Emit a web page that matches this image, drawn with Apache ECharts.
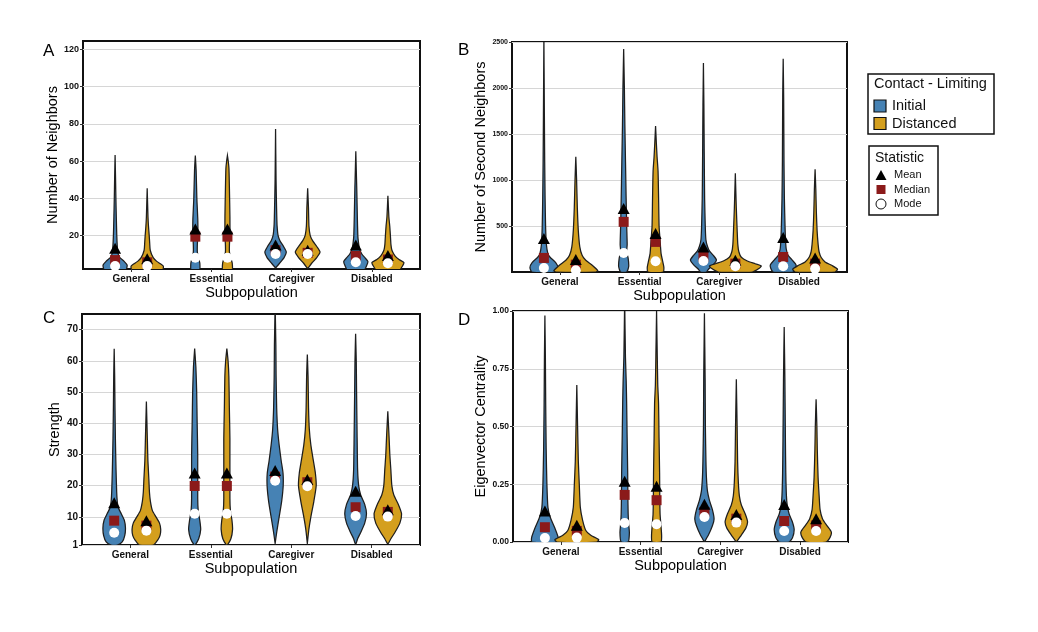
<!DOCTYPE html>
<html><head><meta charset="utf-8">
<script src="https://cdn.jsdelivr.net/npm/echarts@6/dist/echarts.min.js"></script>
<style>html,body{margin:0;background:#fff}#c{width:1038px;height:632px}</style>
</head><body><div id="c"></div>
<script>
// ---------------- DATA ----------------
const categories = ['General', 'Essential', 'Caregiver', 'Disabled'];
const groups = ['Initial', 'Distanced'];
const statistics = ['Mean', 'Median', 'Mode'];

// Violin profiles: [value, half-width in % of category spacing], per category
const aViolinInitial = [
  [[1,13],[4,15],[6,11.3],[8.5,5],[12,3.1],[20,2.1],[30,1.5],[40,1],[50,0.6],[63.2,0]],
  [[1,5],[5,5.6],[8,3.8],[11,2.5],[15,2.5],[20,3.1],[28,3.1],[40,1.9],[55,1],[63,0]],
  [[2.5,0],[5,5],[8,10.6],[11,13.4],[14,10],[17,5.6],[20,3.1],[25,1.9],[30,1.5],[40,1],[50,0.6],[77.2,0]],
  [[1,10],[4,13.8],[6,15],[8,11.3],[10,7.5],[13,4.4],[17,3.1],[20,2.5],[30,1.9],[45,1.2],[55,0.6],[65.3,0]]
];
const aViolinDistanced = [
  [[1,18.8],[3.5,20],[6,11.9],[8,7.5],[12,3.8],[16,3.1],[20,2.5],[25,1.6],[30,1],[45.3,0]],
  [[1,5.6],[5,6],[8,4],[11,2.5],[15,2.5],[20,3.1],[30,3.1],[45,2.5],[56,1.9],[60,1],[63,0]],
  [[2,0],[5,5],[8,11.3],[11,15.4],[14,11.3],[17,6.3],[20,3.1],[25,1.6],[35,1],[45.3,0]],
  [[1,13.8],[4,18.8],[5.5,19.8],[7,13.8],[9,8.8],[12,5],[15,3.8],[20,3.1],[25,2.3],[30,1.2],[41.3,0]]
];
const bViolinInitial = [
  [[0,15],[50,17.5],[100,15],[163,7.5],[200,5],[300,3.1],[500,2.1],[800,1.5],[1200,1],[1700,0.6],[2560,0]],
  [[0,3.8],[60,6.3],[150,5.6],[220,3.8],[300,4.4],[500,3.8],[800,3.1],[1200,2.3],[1600,1.5],[2000,0.9],[2424,0]],
  [[0,3.8],[30,6.3],[80,12.5],[130,16.3],[180,12.5],[230,7.5],[280,5],[350,3.1],[500,2.3],[800,1.5],[1300,1],[1800,0.6],[2271,0]],
  [[0,12.5],[40,15.6],[80,16],[130,11.3],[180,6.3],[250,3.8],[350,2.9],[500,2.3],[800,1.5],[1200,1],[1900,0.6],[2318,0]]
];
const bViolinDistanced = [
  [[0,25],[15,27.5],[73,20.6],[127,12.5],[182,7.9],[273,5],[455,3.1],[700,1.9],[1000,1],[1253,0]],
  [[0,9.4],[50,10.4],[120,8.8],[200,6.9],[350,5.6],[500,4.4],[800,3.8],[1100,3.1],[1250,1.9],[1400,1],[1588,0]],
  [[0,21.3],[40,30],[65,32.5],[90,25],[120,15],[160,7.5],[220,4.4],[300,3.1],[450,2.3],[700,1.2],[1072,0]],
  [[0,25],[30,28.1],[70,21.3],[110,12.5],[160,7.5],[220,5],[300,3.8],[450,2.5],[650,1.6],[900,0.9],[1116,0]]
];
const cViolinInitial = [
  [[1,3.8],[2,10],[4,13.1],[6.5,14],[9,12.5],[11,8.8],[13,5],[15,3.8],[18,3.1],[25,2.3],[35,1.5],[45,1],[55,0.6],[63.9,0]],
  [[1,0.6],[3,5],[6,7.5],[9,6.3],[12,4.4],[16,3.8],[30,3.8],[40,3.1],[50,2.5],[58,1.5],[63.9,0]],
  [[1.5,0],[5,1.9],[10,5],[15,8.1],[20,10],[24,9.8],[28,7.5],[33,5],[38,3.1],[45,1.9],[55,1.2],[65,0.9],[78,0]],
  [[1.5,0.6],[3,2.5],[5,6.3],[8,11.3],[11,13.5],[14,11.3],[17,6.3],[20,3.8],[25,2.5],[35,1.9],[50,1.2],[60,0.8],[68.7,0]]
];
const cViolinDistanced = [
  [[1,8.8],[2.5,13.8],[4,16.9],[6,17.8],[8,16.3],[10,11.9],[12,7.5],[15,5],[18,3.8],[22,3.1],[28,1.9],[35,1.2],[47,0]],
  [[1,0.6],[3,5],[6,7.1],[9,6.3],[12,4.4],[16,3.8],[35,3.8],[45,3.1],[55,2.5],[60,1.5],[63.9,0]],
  [[1.5,0],[6,1.9],[10,4.4],[15,8.1],[20,11],[24,10],[28,7.5],[33,4.4],[38,2.5],[45,1.5],[55,0.9],[62,0]],
  [[1.5,0.6],[3,3.8],[5,8.8],[8,15],[11,17.1],[14,13.1],[17,7.5],[20,5],[25,3.8],[30,2.5],[36,1.5],[43.8,0]]
];
const dViolinInitial = [
  [[0,16.3],[0.02,16.6],[0.065,11.9],[0.108,6.6],[0.15,3.8],[0.25,2.5],[0.4,1.6],[0.6,1],[0.8,0.6],[0.98,0]],
  [[0,4.4],[0.04,5.9],[0.08,5],[0.12,4.4],[0.2,4],[0.3,3.8],[0.45,3.1],[0.6,2.5],[0.7,1.9],[0.8,1],[1.05,0]],
  [[0,0],[0.03,5],[0.07,10],[0.1,12.1],[0.14,10],[0.18,6.3],[0.22,3.8],[0.28,2.5],[0.35,1.9],[0.5,1.2],[0.7,0.9],[0.99,0]],
  [[0,6.3],[0.02,10.6],[0.055,12.5],[0.09,10],[0.12,6.3],[0.16,3.8],[0.2,2.8],[0.3,2],[0.45,1.5],[0.7,0.9],[0.931,0]]
];
const dViolinDistanced = [
  [[0,25],[0.01,27.5],[0.029,17.5],[0.05,11.3],[0.094,7.3],[0.15,4.4],[0.25,3.1],[0.35,1.9],[0.5,1],[0.68,0]],
  [[0,5.6],[0.03,6.3],[0.08,5.3],[0.12,4.4],[0.2,4],[0.3,3.8],[0.45,3.1],[0.6,2.5],[0.68,1.5],[0.8,0.9],[1.0,0]],
  [[0,0],[0.03,6.3],[0.06,11.9],[0.087,14.1],[0.12,11.3],[0.16,6.3],[0.2,3.8],[0.26,2.5],[0.35,1.6],[0.5,1],[0.704,0]],
  [[0,12.5],[0.02,17.5],[0.043,19.1],[0.07,13.8],[0.1,8.1],[0.14,5],[0.2,3.8],[0.28,2.5],[0.4,1.5],[0.5,1],[0.618,0]]
];

// Statistics per category (General, Essential, Caregiver, Disabled)
const aMeanInitial = [13, 23.4, 14.8, 14.8];
const aMeanDistanced = [7.4, 23.4, 12, 9.2];
const aMedianInitial = [6.7, 19.3, 12, 8.9];
const aMedianDistanced = [5.5, 19.3, 10.6, 7];
const aModeInitial = [3.5, 8, 10, 5.5];
const aModeDistanced = [3.5, 8, 10, 5];

const bMeanInitial = [364, 691, 273, 375];
const bMeanDistanced = [135, 418, 127, 153];
const bMedianInitial = [153, 545, 163, 163];
const bMedianDistanced = [80, 327, 91, 91];
const bModeInitial = [44, 207, 120, 62];
const bModeDistanced = [19, 117, 62, 37];

const cMeanInitial = [14.5, 24.1, 24.9, 18.2];
const cMeanDistanced = [8.8, 24.1, 22, 12.3];
const cMedianInitial = [8.8, 19.9, 22.9, 13.1];
const cMedianDistanced = [7.2, 19.9, 21.1, 11.6];
const cModeInitial = [4.9, 11, 21.6, 10.3];
const cModeDistanced = [5.6, 11, 19.8, 10.1];

const dMeanInitial = [0.134, 0.263, 0.163, 0.162];
const dMeanDistanced = [0.072, 0.241, 0.119, 0.101];
const dMedianInitial = [0.064, 0.204, 0.130, 0.091];
const dMedianDistanced = [0.048, 0.181, 0.101, 0.072];
const dModeInitial = [0.017, 0.082, 0.108, 0.048];
const dModeDistanced = [0.019, 0.077, 0.084, 0.048];

// Tick labels
const aTicks = [20, 40, 60, 80, 100, 120];
const bTicks = [500, 1000, 1500, 2000, 2500];
const cTicks = [1, 10, 20, 30, 40, 50, 60, 70];
const dTicks = [0, 0.25, 0.5, 0.75, 1];
const xTicks = [1, 2, 3, 4];

// ---------------- STYLE / LAYOUT ----------------
const BLUE = '#4682b4', GOLD = '#d49f1e', RED = '#8b1a1a';
const DODGE = 0.2;
const FONT = '"Liberation Sans", Arial, sans-serif';

const panels = [
  {letter:'A', grid:{left:83, top:41, width:337, height:228}, min:1.9, max:124.6, ticks:aTicks, fs:9,
   name:'Number of Neighbors', nameGap:18, fmt:v=>String(v),
   vi:aViolinInitial, vd:aViolinDistanced,
   mean:[aMeanInitial,aMeanDistanced], median:[aMedianInitial,aMedianDistanced], mode:[aModeInitial,aModeDistanced]},
  {letter:'B', grid:{left:512, top:42, width:335, height:230}, min:0, max:2500, ticks:bTicks, fs:7,
   name:'Number of Second Neighbors', nameGap:23, fmt:v=>String(v),
   vi:bViolinInitial, vd:bViolinDistanced,
   mean:[bMeanInitial,bMeanDistanced], median:[bMedianInitial,bMedianDistanced], mode:[bModeInitial,bModeDistanced]},
  {letter:'C', grid:{left:82, top:314, width:338, height:231}, min:1, max:75, ticks:cTicks, fs:10,
   name:'Strength', nameGap:16, fmt:v=>String(v),
   vi:cViolinInitial, vd:cViolinDistanced,
   mean:[cMeanInitial,cMeanDistanced], median:[cMedianInitial,cMedianDistanced], mode:[cModeInitial,cModeDistanced]},
  {letter:'D', grid:{left:513, top:311, width:335, height:231}, min:0, max:1, ticks:dTicks, fs:8.5,
   name:'Eigenvector Centrality', nameGap:24, fmt:v=>v.toFixed(2),
   vi:dViolinInitial, vd:dViolinDistanced,
   mean:[dMeanInitial,dMeanDistanced], median:[dMedianInitial,dMedianDistanced], mode:[dModeInitial,dModeDistanced]}
];

function violinSeries(k, profiles, off, color) {
  return {
    type:'custom', xAxisIndex:k, yAxisIndex:k, clip:true, z:2, silent:true,
    data: profiles.map((p, i) => [i + 1 + off, p[0][0]]),
    encode:{x:0, y:1},
    renderItem:(params, api) => {
      const prof = profiles[params.dataIndex];
      const xc = api.value(0);
      const pts = [];
      prof.forEach(p => pts.push(api.coord([xc + p[1] / 100, p[0]])));
      for (let j = prof.length - 1; j >= 0; j--) pts.push(api.coord([xc - prof[j][1] / 100, prof[j][0]]));
      return {type:'polygon', shape:{points:pts, smooth:0.2},
              style:{fill:color, stroke:'#1e1e1e', lineWidth:1.25}};
    }
  };
}
function pts(pair) {
  return pair[0].map((v, i) => [i + 1 - DODGE, v]).concat(pair[1].map((v, i) => [i + 1 + DODGE, v]));
}

const grids = [], xAxes = [], yAxes = [], series = [];
panels.forEach((p, k) => {
  grids.push(Object.assign({show:true, borderColor:'#111', borderWidth:2, backgroundColor:'transparent'}, p.grid));
  xAxes.push({type:'value', gridIndex:k, min:0.4, max:4.6,
    name:'Subpopulation', nameLocation:'middle', nameGap:16,
    nameTextStyle:{fontSize:14.5, color:'#000', fontFamily:FONT},
    axisLine:{show:false},
    axisTick:{show:true, length:3, customValues:xTicks, lineStyle:{color:'#333'}},
    axisLabel:{customValues:xTicks, formatter:v=>categories[Math.round(v)-1] || '', fontSize:10, fontWeight:'bold', color:'#111', fontFamily:FONT, margin:5},
    splitLine:{show:false}});
  yAxes.push({type:'value', gridIndex:k, min:p.min, max:p.max,
    name:p.name, nameLocation:'middle', nameGap:p.nameGap,
    nameTextStyle:{fontSize:14.5, color:'#000', fontFamily:FONT},
    axisLine:{show:false},
    axisTick:{show:true, length:3, customValues:p.ticks, lineStyle:{color:'#333'}},
    axisLabel:{customValues:p.ticks, formatter:p.fmt, fontSize:p.fs, fontWeight:'bold', color:'#111', fontFamily:FONT, margin:4},
    splitLine:{show:true, lineStyle:{color:'#d6d6d6', width:1}}});
  series.push(violinSeries(k, p.vi, -DODGE, BLUE));
  series.push(violinSeries(k, p.vd, DODGE, GOLD));
  series.push({type:'scatter', xAxisIndex:k, yAxisIndex:k, z:3, silent:true, symbol:'rect', symbolSize:10,
    itemStyle:{color:RED, opacity:1}, data:pts(p.median)});
  series.push({type:'scatter', xAxisIndex:k, yAxisIndex:k, z:4, silent:true, symbol:'triangle', symbolSize:[12,11],
    itemStyle:{color:'#000', opacity:1}, data:pts(p.mean)});
  series.push({type:'scatter', xAxisIndex:k, yAxisIndex:k, z:5, silent:true, symbol:'circle', symbolSize:10,
    itemStyle:{color:'#fff', opacity:1}, data:pts(p.mode)});
});

const letterPos = [[43,43],[458,42],[43,310],[458,312]];
const graphic = panels.map((p, k) => ({type:'text', left:letterPos[k][0], top:letterPos[k][1],
  style:{text:p.letter, font:'17px ' + FONT, fill:'#000'}}));

// Legends
const LF = '"Liberation Sans", Arial, sans-serif';
graphic.push(
  {type:'rect', shape:{x:868, y:74, width:126, height:60}, style:{fill:'#fff', stroke:'#111', lineWidth:1.5}},
  {type:'text', x:874, y:84, style:{text:'Contact - Limiting', font:'14.5px ' + LF, fill:'#111', textVerticalAlign:'middle'}},
  {type:'rect', shape:{x:874, y:100, width:12, height:12}, style:{fill:BLUE, stroke:'#111', lineWidth:1.2}},
  {type:'text', x:892, y:106, style:{text:groups[0], font:'14.5px ' + LF, fill:'#111', textVerticalAlign:'middle'}},
  {type:'rect', shape:{x:874, y:117.5, width:12, height:12}, style:{fill:GOLD, stroke:'#111', lineWidth:1.2}},
  {type:'text', x:892, y:123.5, style:{text:groups[1], font:'14.5px ' + LF, fill:'#111', textVerticalAlign:'middle'}},
  {type:'rect', shape:{x:869, y:146, width:69, height:69}, style:{fill:'#fff', stroke:'#111', lineWidth:1.5}},
  {type:'text', x:875, y:158, style:{text:'Statistic', font:'14px ' + LF, fill:'#111', textVerticalAlign:'middle'}},
  {type:'polygon', shape:{points:[[875.5,180],[886.5,180],[881,170]]}, style:{fill:'#000'}},
  {type:'text', x:894, y:175, style:{text:statistics[0], font:'11px ' + LF, fill:'#111', textVerticalAlign:'middle'}},
  {type:'rect', shape:{x:876.5, y:185, width:9, height:9}, style:{fill:RED}},
  {type:'text', x:894, y:189.5, style:{text:statistics[1], font:'11px ' + LF, fill:'#111', textVerticalAlign:'middle'}},
  {type:'circle', shape:{cx:881, cy:204, r:5}, style:{fill:'#fff', stroke:'#111', lineWidth:1}},
  {type:'text', x:894, y:204, style:{text:statistics[2], font:'11px ' + LF, fill:'#111', textVerticalAlign:'middle'}}
);

const chart = echarts.init(document.getElementById('c'), null, {renderer:'canvas'});
chart.setOption({animation:false, backgroundColor:'#fff', grid:grids, xAxis:xAxes, yAxis:yAxes, series:series, graphic:graphic});
</script></body></html>
